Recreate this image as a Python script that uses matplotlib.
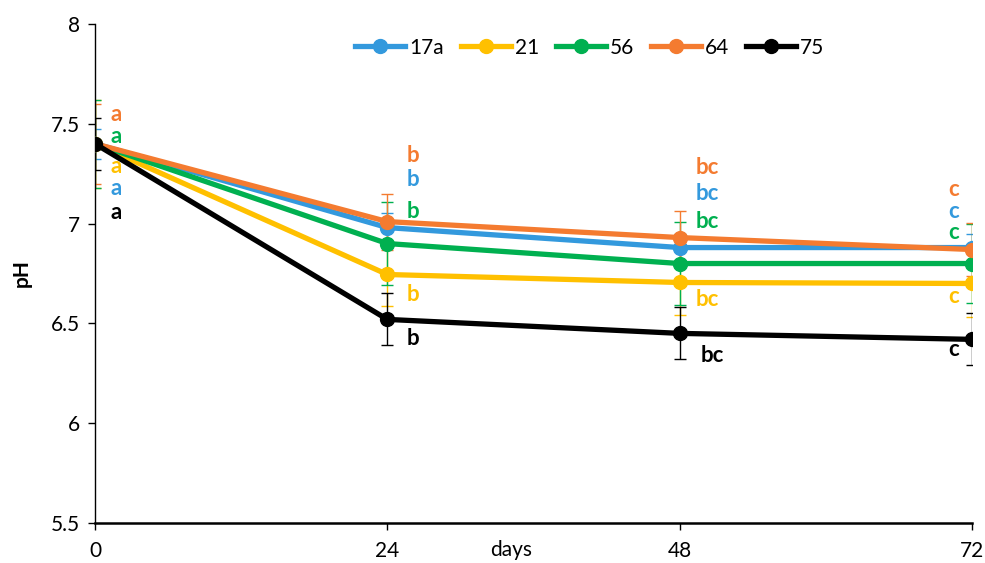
import matplotlib
matplotlib.use("Agg")
import matplotlib.pyplot as plt

days = [0, 24, 48, 72]
series_names = ["17a", "21", "56", "64", "75"]
colors = ["#3399DD", "#FFC000", "#00B050", "#F47B30", "#000000"]
ph_17a = [7.40, 6.98, 6.88, 6.88]
ph_21 = [7.40, 6.745, 6.705, 6.70]
ph_56 = [7.40, 6.90, 6.80, 6.80]
ph_64 = [7.40, 7.01, 6.93, 6.87]
ph_75 = [7.40, 6.52, 6.45, 6.42]
err_17a = [0.075, 0.075, 0.07, 0.07]
err_21 = [0.22, 0.16, 0.165, 0.17]
err_56 = [0.22, 0.21, 0.21, 0.20]
err_64 = [0.20, 0.14, 0.135, 0.135]
err_75 = [0.13, 0.13, 0.13, 0.13]

# significance letters: (x, y, text) per series
letters_17a = [(1.3, 7.175, "a"), (25.6, 7.22, "b"), (49.3, 7.15, "bc"), (70.5, 7.06, "c")]
letters_21 = [(1.3, 7.285, "a"), (25.6, 6.645, "b"), (49.3, 6.62, "bc"), (70.5, 6.635, "c")]
letters_56 = [(1.3, 7.435, "a"), (25.6, 7.06, "b"), (49.3, 7.01, "bc"), (70.5, 6.955, "c")]
letters_64 = [(1.3, 7.545, "a"), (25.6, 7.34, "b"), (49.3, 7.28, "bc"), (70.5, 7.17, "c")]
letters_75 = [(1.3, 7.055, "a"), (25.6, 6.425, "b"), (49.7, 6.34, "bc"), (70.5, 6.37, "c")]

values = [ph_17a, ph_21, ph_56, ph_64, ph_75]
errors = [err_17a, err_21, err_56, err_64, err_75]
letters = [letters_17a, letters_21, letters_56, letters_64, letters_75]

plt.rcParams['font.family'] = ['Lato', 'DejaVu Sans']

fig = plt.figure(figsize=(9.85, 5.63), dpi=100)
ax = fig.add_axes([95/985, 1 - 523/563, (972-95)/985, (523-24)/563])

for name, c, v, e in zip(series_names, colors, values, errors):
    ax.errorbar(days, v, yerr=e, fmt='none', ecolor=c, elinewidth=1.0,
                capsize=4, capthick=1.0, zorder=2)
for name, c, v in zip(series_names, colors, values):
    ax.plot(days, v, color=c, lw=3.8, marker='o', markersize=10, label=name, zorder=3)

for c, lt in zip(colors, letters):
    for (x, y, t) in lt:
        ax.text(x, y, t, color=c, fontsize=16, fontweight='bold',
                ha='left' if x < 60 else 'center', va='center', zorder=4)

ax.set_xlim(0, 72)
ax.set_ylim(5.5, 8)
ax.set_xticks(days)
ax.set_yticks([5.5, 6, 6.5, 7, 7.5, 8])
ax.set_yticklabels(["5.5", "6", "6.5", "7", "7.5", "8"])
ax.spines['top'].set_visible(False)
ax.spines['right'].set_visible(False)
ax.spines['left'].set_linewidth(1.0)
ax.spines['bottom'].set_linewidth(1.8)
ax.tick_params(axis='both', labelsize=15, direction='out', length=5, width=1)
ax.tick_params(axis='x', pad=8)
ax.tick_params(axis='y', pad=6)
ax.set_ylabel("pH", fontsize=15, fontweight='bold')
ax.yaxis.set_label_coords(-0.072, 0.5)
ax.set_xlabel("days", fontsize=15)
ax.xaxis.set_label_coords(0.475, -0.035)
ax.xaxis.label.set_va('top')

leg = ax.legend(loc='upper center', bbox_to_anchor=(0.564, 1.01), ncol=5, frameon=False,
                fontsize=15, handlelength=2.4, columnspacing=0.8, handletextpad=0.2)

fig.savefig("out.png", dpi=100)
